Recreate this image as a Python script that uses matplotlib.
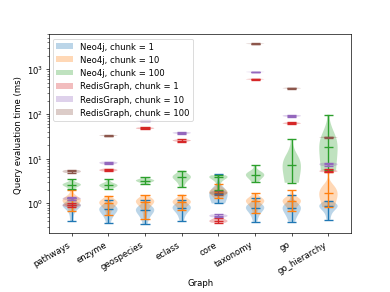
import matplotlib
matplotlib.use("Agg")
import matplotlib.pyplot as plt
import matplotlib.patches as mpatches

graphs = ["pathways", "enzyme", "geospecies", "eclass", "core",
          "taxonomy", "go", "go_hierarchy"]

# query times (ms) per graph
neo4j_1 = [
    [0.40, 0.70, 0.82, 0.86, 0.89, 0.91, 0.94, 0.98, 1.05, 1.30],
    [0.36, 0.58, 0.64, 0.68, 0.72, 0.76, 0.80, 0.86, 0.95, 1.20],
    [0.34, 0.55, 0.62, 0.66, 0.70, 0.73, 0.77, 0.83, 0.92, 1.20],
    [0.41, 0.62, 0.70, 0.75, 0.79, 0.82, 0.86, 0.92, 1.00, 1.20],
    [1.00, 1.25, 1.40, 1.50, 1.56, 1.62, 1.70, 1.85, 2.20, 4.50],
    [0.39, 0.62, 0.70, 0.75, 0.79, 0.82, 0.86, 0.92, 1.00, 1.30],
    [0.39, 0.60, 0.68, 0.73, 0.77, 0.81, 0.86, 0.93, 1.05, 1.53],
    [0.43, 0.66, 0.74, 0.80, 0.84, 0.88, 0.92, 0.97, 1.03, 1.15],
]
neo4j_10 = [
    [0.69, 0.95, 1.05, 1.12, 1.16, 1.19, 1.24, 1.32, 1.50, 1.98],
    [0.55, 0.80, 0.92, 0.98, 1.02, 1.06, 1.10, 1.16, 1.28, 1.48],
    [0.46, 0.82, 0.95, 1.02, 1.08, 1.12, 1.16, 1.22, 1.32, 1.53],
    [0.71, 0.90, 0.98, 1.04, 1.08, 1.11, 1.15, 1.22, 1.35, 1.58],
    [1.29, 1.50, 1.62, 1.72, 1.80, 1.85, 1.92, 2.05, 2.25, 2.70],
    [0.60, 0.88, 1.00, 1.07, 1.12, 1.15, 1.20, 1.28, 1.40, 1.67],
    [0.69, 0.95, 1.04, 1.09, 1.12, 1.15, 1.19, 1.27, 1.45, 1.98],
    [0.83, 1.20, 1.40, 1.55, 1.64, 1.70, 1.80, 2.00, 2.60, 5.10],
]
neo4j_100 = [
    [2.15, 2.40, 2.50, 2.57, 2.62, 2.66, 2.72, 2.82, 3.00, 3.47],
    [2.15, 2.33, 2.42, 2.48, 2.53, 2.57, 2.63, 2.75, 2.95, 3.47],
    [2.70, 2.95, 3.08, 3.16, 3.23, 3.27, 3.33, 3.42, 3.58, 3.90],
    [2.30, 3.10, 3.50, 3.70, 3.85, 3.95, 4.10, 4.35, 4.80, 5.40],
    [2.00, 2.90, 3.40, 3.65, 3.82, 3.90, 3.96, 4.02, 4.12, 4.26],
    [3.03, 3.70, 4.00, 4.20, 4.35, 4.45, 4.60, 4.85, 5.40, 7.10],
    [2.9, 4.0, 4.8, 5.5, 6.2, 6.8, 7.5, 8.5, 10.0, 13.0, 18.0, 27.8],
    [5.5, 8.0, 10.5, 13.0, 15.5, 17.5, 20.0, 25.0, 33.0, 45.0, 60.0, 96.6],
]
redis_1 = [
    [0.84, 0.89, 0.92, 0.95, 1.02],
    [5.2, 5.4, 5.6, 5.7, 6.0],
    [46, 47, 48, 49, 50],
    [24, 25, 25.5, 26, 27],
    [0.37, 0.39, 0.41, 0.43, 0.47],
    [585, 595, 600, 605, 615],
    [59, 61, 62, 63, 65],
    [5.0, 5.2, 5.3, 5.5, 5.8],
]
redis_10 = [
    [1.18, 1.24, 1.29, 1.33, 1.40],
    [7.5, 7.8, 8.1, 8.3, 8.6],
    [68, 70, 71, 72, 74],
    [36, 37, 37.8, 38.5, 39.5],
    [0.49, 0.51, 0.53, 0.55, 0.57],
    [855, 865, 870, 875, 885],
    [87, 89, 91, 93, 95],
    [6.9, 7.2, 7.5, 7.8, 8.1],
]
# no chunk=100 results for geospecies and eclass
redis_100_graphs = ["pathways", "enzyme", "core", "taxonomy", "go", "go_hierarchy"]
redis_100 = [
    [4.8, 5.0, 5.2, 5.4, 5.6],
    [32, 32.6, 33, 33.4, 34],
    [1.55, 1.65, 1.72, 1.78, 1.88],
    [3650, 3690, 3720, 3750, 3790],
    [368, 374, 378, 382, 388],
    [29, 29.6, 30, 30.4, 31],
]

series = [
    ("Neo4j, chunk = 1", graphs, neo4j_1),
    ("Neo4j, chunk = 10", graphs, neo4j_10),
    ("Neo4j, chunk = 100", graphs, neo4j_100),
    ("RedisGraph, chunk = 1", graphs, redis_1),
    ("RedisGraph, chunk = 10", graphs, redis_10),
    ("RedisGraph, chunk = 100", redis_100_graphs, redis_100),
]

fig, ax = plt.subplots(figsize=(6.4, 4.8), dpi=61)

handles = []
for i, (label, names, data) in enumerate(series):
    pos = [graphs.index(n) + 1 for n in names]
    parts = ax.violinplot(data, positions=pos, showmedians=True)
    for key in ("cmins", "cmaxes", "cbars", "cmedians"):
        parts[key].set_linewidth(1.6)
    handles.append(mpatches.Patch(facecolor=f"C{i}", alpha=0.3, label=label))

ax.set_yscale("log")
ax.set_xticks(range(1, len(graphs) + 1))
ax.set_xticklabels(graphs)
ax.set_xlabel("Graph")
ax.set_ylabel("Query evaluation time (ms)")
ax.legend(handles=handles, loc="upper left")
fig.autofmt_xdate()

fig.savefig("out.png", dpi=61)
